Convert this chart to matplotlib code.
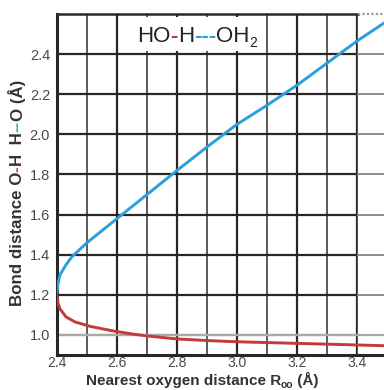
import numpy as np
import matplotlib
matplotlib.use("Agg")
import matplotlib.pyplot as plt
from matplotlib.patches import Rectangle

plt.rcParams['font.family'] = ['Liberation Sans', 'DejaVu Sans']

# short (covalent) O-H distance vs O...O separation
r_short = [2.400, 2.403, 2.41, 2.43, 2.46, 2.51, 2.58, 2.64, 2.70, 2.80,
           2.90, 3.00, 3.10, 3.20, 3.30, 3.40, 3.50]
oh_short = [1.20, 1.16, 1.13, 1.09, 1.065, 1.043, 1.022, 1.007, 0.995, 0.980,
            0.972, 0.966, 0.962, 0.958, 0.954, 0.950, 0.946]

# long (hydrogen bond) H...O distance
r_long = [2.400, 2.403, 2.41, 2.43, 2.45, 2.50, 2.55, 2.60, 2.70, 2.80,
          2.90, 3.00, 3.10, 3.20, 3.30, 3.40, 3.50]
oh_long = [1.21, 1.255, 1.30, 1.35, 1.39, 1.46, 1.52, 1.58, 1.70, 1.82,
           1.937, 2.05, 2.145, 2.245, 2.355, 2.465, 2.565]

x_ticks = [2.4, 2.6, 2.8, 3.0, 3.2, 3.4]
y_ticks = [1.0, 1.2, 1.4, 1.6, 1.8, 2.0, 2.2, 2.4]

BLUE = '#2a9fdc'
RED = '#c43a3a'
DARK = '#2a2626'
GREY = '#a9a9a9'
TXT = '#4a4a4a'

fig = plt.figure(figsize=(3.84, 3.90), dpi=100)
ax = fig.add_axes([57 / 384, 35 / 390, 1 - 57 / 384, 341 / 390])
ax.set_xlim(2.4, 3.49)
ax.set_ylim(0.9, 2.6)

# grid: dark every 0.2, a little lighter on the odd tenths
for x in np.arange(2.5, 3.45, 0.1):
    even = round(x * 10) % 2 == 0
    ax.axvline(x, color=DARK if even else '#4f4c4c', lw=1.6 if even else 1.3, zorder=1)
for y in y_ticks:
    ax.axhline(y, color=GREY if y == 1.0 else DARK, lw=1.6, zorder=1)
# region past 3.4 is drawn in light grey
ax.axvspan(3.405, 3.49, color='white', zorder=1.1)
for y in y_ticks[1:]:
    ax.plot([3.405, 3.49], [y, y], color='#8c8c8c', lw=1.4, zorder=1.2)
ax.axhline(1.0, color=GREY, lw=1.6, zorder=1.2)

ax.plot(r_long, oh_long, color=BLUE, lw=2.1, zorder=3, solid_capstyle='round',
        solid_joinstyle='round')
ax.plot(r_short, oh_short, color=RED, lw=2.1, zorder=3, solid_capstyle='round',
        solid_joinstyle='round')

ax.set_xticks(x_ticks)
ax.set_xticklabels([f"{v:.1f}" for v in x_ticks])
ax.set_yticks(y_ticks)
ax.set_yticklabels([f"{v:.1f}" for v in y_ticks])
ax.tick_params(length=0, labelsize=10.5, labelcolor=TXT, pad=5)
ax.tick_params(axis='x', pad=1, labelsize=10)

for side in ['left', 'bottom']:
    ax.spines[side].set_linewidth(2.2)
    ax.spines[side].set_color(DARK)
ax.spines['top'].set_linewidth(1.8)
ax.spines['top'].set_color(DARK)
ax.spines['top'].set_bounds(2.4, 3.405)
ax.spines['right'].set_visible(False)
ax.plot([3.405, 3.49], [2.6, 2.6], color='#9a9a9a', lw=1.6, ls=(0, (1, 1)),
        zorder=4, clip_on=False)

# white box behind the formula
ax.add_patch(Rectangle((0.223, 0.891), 0.416, 0.1, transform=ax.transAxes,
                       facecolor='white', edgecolor='none', zorder=2))

fig.canvas.draw()
renderer = fig.canvas.get_renderer()


def chain(pieces, x0, y0, rotation=0, va='center', **kw):
    # lay text pieces one after another (pixel coordinates)
    # each piece: (text, color, weight, size, dy)
    pos = 0.0
    for s, c, w, size, dy in pieces:
        if rotation:
            t = fig.text((x0 - dy) / 384, (y0 + pos) / 390, s, color=c, fontweight=w,
                         fontsize=size, rotation=90, rotation_mode='anchor',
                         ha='left', va=va, **kw)
            pos += t.get_window_extent(renderer).height
        else:
            t = fig.text((x0 + pos) / 384, (y0 + dy) / 390, s, color=c, fontweight=w,
                         fontsize=size, ha='left', va=va, zorder=5, **kw)
            pos += t.get_window_extent(renderer).width
    return pos


INK = '#222222'
LBL = '#333333'
chain([("HO", INK, 'normal', 16, 0), ("-", RED, 'heavy', 16, 0),
       ("H", INK, 'normal', 16, 0), ("---", BLUE, 'heavy', 16, 0),
       ("OH", INK, 'normal', 16, 0), ("2", INK, 'normal', 10, -6)],
      137, 390 - 37)

chain([("Bond distance O", LBL, 'bold', 12.2, 0), ("-", RED, 'bold', 12.2, 0),
       ("H  H", LBL, 'bold', 12.2, 0), ("--", BLUE, 'bold', 12.2, 0),
       ("O (Å)", LBL, 'bold', 12.2, 0)],
      17, 390 - 306, rotation=90)

xlabel = [("Nearest oxygen distance R", LBL, 'bold', 11, 0),
          ("oo", LBL, 'bold', 7.5, -3), (" (Å)", LBL, 'bold', 11, 0)]
# measure once to center the label
probe = fig.text(0, 0, "Nearest oxygen distance R (Å)", fontsize=11, fontweight='bold')
width = probe.get_window_extent(renderer).width + 10
probe.remove()
chain(xlabel, 201 - width / 2, 5, va='baseline')

fig.savefig("out.png", dpi=100, facecolor='white')
